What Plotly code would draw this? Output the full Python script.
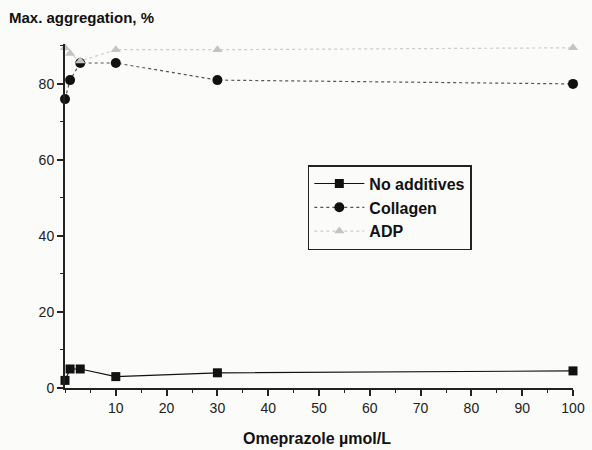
import plotly.graph_objects as go

# Omeprazole concentration (µmol/L)
conc = [0, 1, 3, 10, 30, 100]

# Maximal aggregation (%) per condition
no_additives = [2, 5, 5, 3, 4, 4.5]
collagen = [76, 81, 85.5, 85.5, 81, 80]
adp = [89.5, 88, 86, 89, 89, 89.5]

x_ticks = [10, 20, 30, 40, 50, 60, 70, 80, 90, 100]
y_ticks = [0, 20, 40, 60, 80]

font_family = "Liberation Sans, Arial, sans-serif"

fig = go.Figure()

fig.add_trace(go.Scatter(
    x=conc, y=no_additives, name="No additives", mode="lines+markers",
    line=dict(color="#111111", width=1.2),
    marker=dict(symbol="square", size=9, color="#111111"),
    cliponaxis=False,
))
fig.add_trace(go.Scatter(
    x=conc, y=collagen, name="Collagen", mode="lines+markers",
    line=dict(color="#555555", width=1.2, dash="dot"),
    marker=dict(symbol="circle", size=10, color="#111111"),
    cliponaxis=False,
))
fig.add_trace(go.Scatter(
    x=conc, y=adp, name="ADP", mode="lines+markers",
    line=dict(color="#cccccc", width=1.2, dash="3px,3px"),
    marker=dict(symbol="triangle-up", size=9, color="#c4c4c4"),
    cliponaxis=False,
))

fig.update_layout(
    width=592, height=450,
    margin=dict(l=65, r=19, t=44, b=62, autoexpand=False),
    paper_bgcolor="#fbfbf9",
    plot_bgcolor="#fbfbf9",
    font=dict(family=font_family, size=13, color="#222222"),
    showlegend=True,
    legend=dict(
        x=0.478, y=0.648, xanchor="left", yanchor="top",
        bgcolor="#fbfbf9", bordercolor="#222222", borderwidth=1.5,
        font=dict(family=font_family, size=16, color="#111111", weight="bold"),
        itemwidth=50, tracegroupgap=2,
    ),
    xaxis=dict(
        range=[0, 100], tickvals=x_ticks, ticks="outside", ticklen=6,
        tickwidth=1.5, tickcolor="#222222", automargin=False,
        minor=dict(dtick=5, tick0=0, ticks="outside", ticklen=3,
                   tickwidth=1.2, tickcolor="#222222"),
        showline=True, linecolor="#222222", linewidth=2,
        showgrid=False, zeroline=False,
        tickfont=dict(size=14, color="#222222"),
    ),
    yaxis=dict(
        range=[0, 90.5], tickvals=y_ticks, ticks="outside", ticklen=6,
        tickwidth=1.5, tickcolor="#222222", automargin=False,
        minor=dict(dtick=10, tick0=0, ticks="outside", ticklen=3,
                   tickwidth=1.2, tickcolor="#222222"),
        showline=True, linecolor="#222222", linewidth=2,
        showgrid=False, zeroline=False,
        tickfont=dict(size=14, color="#222222"),
    ),
    annotations=[
        dict(
            text="<b>Max. aggregation, %</b>", xref="paper", yref="paper",
            x=-0.114, y=1.0, xanchor="left", yanchor="bottom", yshift=16,
            showarrow=False, font=dict(size=15, color="#111111"),
        ),
        dict(
            text="<b>Omeprazole µmol/L</b>", xref="paper", yref="paper",
            x=0.497, y=0.0, xanchor="center", yanchor="middle", yshift=-50,
            showarrow=False, font=dict(size=16, color="#111111"),
        ),
    ],
)

fig.write_html("out.html")
